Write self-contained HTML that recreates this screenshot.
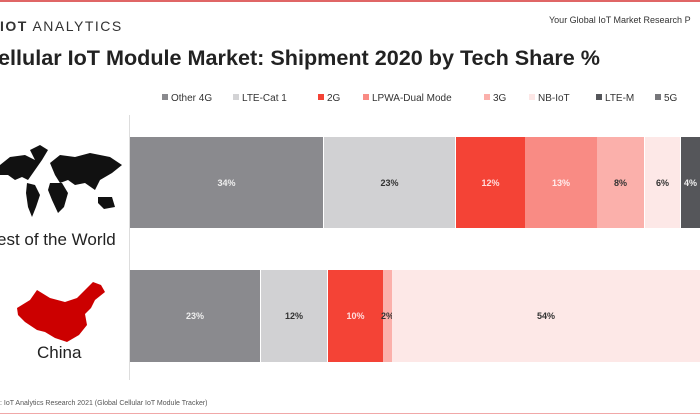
<!DOCTYPE html>
<html><head><style>
body{margin:0;width:700px;height:417px;background:#fff;position:relative;overflow:hidden;font-family:"Liberation Sans",sans-serif}
.a{position:absolute}
.seg{position:absolute;display:flex;align-items:center;justify-content:center;font-size:9px;font-weight:bold}
.lg{position:absolute;top:93px;font-size:10px;color:#333;white-space:nowrap}
.lg i{display:inline-block;width:6px;height:6px;margin-right:3px;vertical-align:1px}
</style></head><body>
<div class="a" style="left:0;top:0;width:700px;height:2px;background:#e06666"></div>
<div class="a" style="left:0;top:18px;font-size:14px;letter-spacing:1.5px;color:#333"><b>IOT</b> ANALYTICS</div>
<div class="a" style="left:549px;top:15px;font-size:9px;color:#333;white-space:nowrap">Your Global IoT Market Research P</div>
<div class="a" style="left:-2px;top:45px;font-size:21.6px;font-weight:bold;color:#222;white-space:nowrap">ellular IoT Module Market: Shipment 2020 by Tech Share %</div>
<div class="lg" style="left:162px"><i style="background:#8a8a8e"></i>Other 4G</div>
<div class="lg" style="left:233px"><i style="background:#d3d3d5"></i>LTE-Cat 1</div>
<div class="lg" style="left:318px"><i style="background:#f44336"></i>2G</div>
<div class="lg" style="left:363px"><i style="background:#f98b84"></i>LPWA-Dual Mode</div>
<div class="lg" style="left:484px"><i style="background:#fbb0ab"></i>3G</div>
<div class="lg" style="left:529px"><i style="background:#fde7e6"></i>NB-IoT</div>
<div class="lg" style="left:596px"><i style="background:#55565a"></i>LTE-M</div>
<div class="lg" style="left:655px"><i style="background:#77777a"></i>5G</div>
<div class="a" style="left:129px;top:115px;width:1px;height:265px;background:#ddd"></div>
<div class="seg" style="left:130px;top:137px;width:193px;height:91px;background:#8a8a8e;color:#eee">34%</div>
<div class="seg" style="left:324px;top:137px;width:131px;height:91px;background:#d1d1d3;color:#333">23%</div>
<div class="seg" style="left:456px;top:137px;width:69px;height:91px;background:#f44336;color:#fdd">12%</div>
<div class="seg" style="left:525px;top:137px;width:72px;height:91px;background:#f98b84;color:#fee">13%</div>
<div class="seg" style="left:597px;top:137px;width:47px;height:91px;background:#fbb0ab;color:#333">8%</div>
<div class="seg" style="left:645px;top:137px;width:35px;height:91px;background:#fde8e7;color:#333">6%</div>
<div class="seg" style="left:681px;top:137px;width:25px;height:91px;background:#55565a;color:#eee;justify-content:flex-start;padding-left:3px">4%</div>
<div class="seg" style="left:130px;top:270px;width:130px;height:92px;background:#8a8a8e;color:#eee">23%</div>
<div class="seg" style="left:261px;top:270px;width:66px;height:92px;background:#d1d1d3;color:#333">12%</div>
<div class="seg" style="left:328px;top:270px;width:55px;height:92px;background:#f44336;color:#fdd">10%</div>
<div class="seg" style="left:383px;top:270px;width:9px;height:92px;background:#fbb0ab;color:#333">2%</div>
<div class="seg" style="left:392px;top:270px;width:308px;height:92px;background:#fde8e7;color:#333">54%</div>
<svg class="a" style="left:0;top:145px" width="125" height="80" viewBox="0 0 125 80">
<path fill="#111" d="M0 20 L10 12 L25 10 L35 15 L30 5 L40 0 L48 5 L42 15 L35 25 L28 35 L22 32 L15 35 L8 30 L0 30Z M27 38 L35 40 L40 50 L36 62 L32 72 L28 62 L26 48Z M50 18 L60 10 L75 12 L90 8 L110 12 L122 20 L112 28 L100 35 L95 45 L85 38 L75 40 L68 35 L60 38 L55 30Z M50 38 L62 38 L68 48 L64 62 L58 68 L52 55 L48 45Z M98 52 L112 52 L115 62 L104 64 L98 58Z"/>
</svg>
<div class="a" style="left:-3px;top:230px;font-size:17px;color:#222;white-space:nowrap">est of the World</div>
<svg class="a" style="left:15px;top:280px" width="95" height="65" viewBox="0 0 95 65">
<path fill="#c00" d="M2 28 L15 20 L22 10 L35 18 L50 22 L62 18 L70 10 L78 2 L86 5 L90 12 L80 20 L76 28 L70 34 L72 45 L64 55 L52 62 L40 58 L30 52 L22 50 L10 42 L3 35Z"/>
</svg>
<div class="a" style="left:37px;top:343px;font-size:17px;color:#222">China</div>
<div class="a" style="left:0;top:400px;font-size:7px;color:#555;white-space:nowrap">: IoT Analytics Research 2021 (Global Cellular IoT Module Tracker)</div>
<div class="a" style="left:0;top:413px;width:700px;height:1px;background:#f0a8a8"></div>
</body></html>
